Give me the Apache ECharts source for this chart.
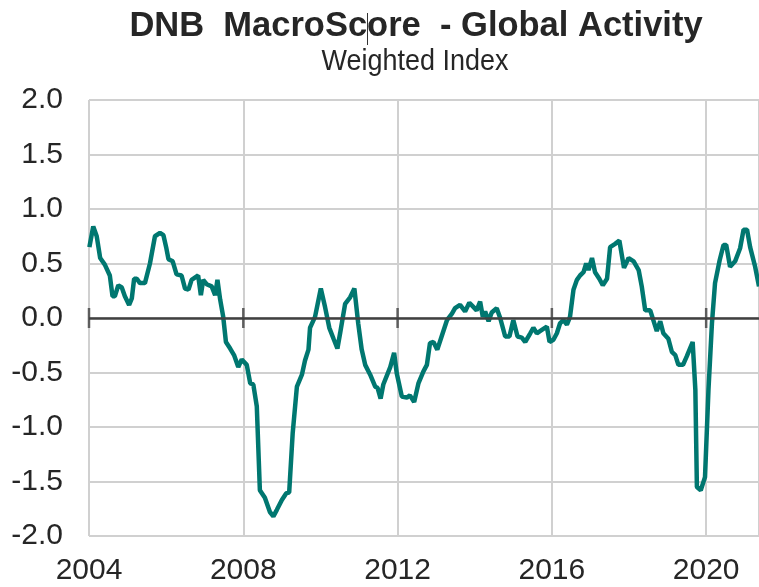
<!DOCTYPE html>
<html>
<head>
<meta charset="utf-8">
<script src="https://cdn.jsdelivr.net/npm/echarts@6/dist/echarts.min.js"></script>
<style>
html,body{margin:0;padding:0;background:#fff;}
#chart{width:759px;height:587px;}
</style>
</head>
<body>
<div id="chart"></div>
<script>
// Decimal-year positions of the readings and the index values
var dates = [
2004.01,2004.11,2004.20,2004.29,2004.41,2004.54,2004.61,2004.67,2004.76,2004.85,2004.93,
2005.04,2005.11,2005.17,2005.24,2005.32,2005.45,2005.58,2005.71,2005.84,2005.93,
2006.00,2006.06,2006.17,2006.27,2006.40,2006.49,2006.58,2006.66,2006.83,2006.90,2006.96,
2007.05,2007.18,2007.27,2007.33,2007.40,2007.48,2007.55,2007.66,2007.76,2007.87,2007.96,
2008.09,2008.18,2008.26,2008.35,2008.43,2008.56,2008.69,2008.78,2008.87,
2009.00,2009.11,2009.19,2009.28,2009.39,2009.52,2009.60,2009.69,2009.73,2009.86,
2010.01,2010.12,2010.23,2010.34,2010.44,2010.51,2010.64,2010.77,2010.88,2010.98,
2011.07,2011.16,2011.29,2011.42,2011.48,2011.56,2011.63,2011.81,2011.91,2011.98,
2012.11,2012.24,2012.32,2012.43,2012.54,2012.67,2012.76,2012.84,2012.93,
2013.03,2013.15,2013.28,2013.41,2013.49,2013.62,2013.75,2013.86,2013.97,
2014.05,2014.14,2014.21,2014.27,2014.36,2014.44,2014.57,2014.66,2014.79,2014.90,
2015.00,2015.11,2015.22,2015.31,2015.44,2015.52,2015.61,2015.74,2015.87,2015.94,
2016.04,2016.13,2016.21,2016.30,2016.39,2016.47,2016.56,2016.65,2016.73,2016.82,2016.89,2016.95,
2017.04,2017.12,2017.23,2017.32,2017.43,2017.51,2017.64,2017.75,2017.87,2017.99,
2018.12,2018.25,2018.33,2018.42,2018.55,2018.63,2018.72,2018.81,2018.89,
2019.02,2019.11,2019.20,2019.28,2019.40,2019.50,2019.65,2019.72,2019.76,2019.86,2019.97,
2020.06,2020.15,2020.23,2020.35,2020.45,2020.52,2020.62,2020.75,2020.88,2020.97,
2021.06,2021.14,2021.27,2021.37
];
var values = [
0.65,0.84,0.75,0.55,0.49,0.39,0.20,0.20,0.30,0.28,0.20,
0.12,0.18,0.36,0.36,0.32,0.32,0.50,0.75,0.78,0.76,
0.65,0.54,0.52,0.40,0.39,0.27,0.26,0.35,0.39,0.21,0.35,
0.31,0.29,0.21,0.35,0.17,0.01,-0.22,-0.28,-0.34,-0.45,-0.38,
-0.43,-0.60,-0.61,-0.81,-1.58,-1.65,-1.78,-1.82,-1.76,
-1.67,-1.61,-1.60,-1.06,-0.63,-0.52,-0.39,-0.29,-0.09,0.01,
0.27,0.10,-0.09,-0.19,-0.28,-0.14,0.13,0.19,0.27,-0.05,
-0.29,-0.43,-0.52,-0.63,-0.64,-0.74,-0.61,-0.45,-0.32,-0.51,
-0.72,-0.73,-0.71,-0.77,-0.60,-0.49,-0.43,-0.23,-0.22,
-0.29,-0.16,-0.02,0.04,0.09,0.12,0.06,0.14,0.10,
0.07,0.15,0.01,0.06,-0.03,0.05,0.09,0.00,-0.17,-0.17,
-0.02,-0.17,-0.18,-0.22,-0.14,-0.09,-0.14,-0.11,-0.08,-0.22,
-0.20,-0.14,-0.05,-0.02,-0.06,0.01,0.26,0.35,0.39,0.42,0.50,0.44,
0.55,0.42,0.36,0.30,0.36,0.65,0.68,0.71,0.46,0.55,
0.52,0.44,0.29,0.07,0.07,-0.02,-0.12,-0.03,-0.14,
-0.19,-0.31,-0.34,-0.43,-0.43,-0.35,-0.22,-0.66,-1.55,-1.58,-1.46,
-0.66,-0.05,0.32,0.53,0.67,0.67,0.47,0.52,0.64,0.81,
0.81,0.65,0.47,0.29
];
var yearTicks = [2004, 2008, 2012, 2016, 2020];
var xMin = 2004, xMax = 2021.37;
var yMin = -2, yMax = 2, yStep = 0.5;
var titleText = 'DNB  MacroScore  - Global Activity';
var subtitleText = 'Weighted Index';

var chart = echarts.init(document.getElementById('chart'), null, {renderer: 'canvas'});
var lineData = dates.map(function (d, i) { return [d, values[i]]; });
var tickData = yearTicks.map(function (y) { return [y, 0]; });
var FONT = '"Liberation Sans", Arial, sans-serif';
var TXT = '#262626';

chart.setOption({
  animation: false,
  backgroundColor: '#ffffff',
  grid: {left: 89, right: 0, top: 100, bottom: 51, containLabel: false},
  graphic: [
    {type: 'text', x: 416, y: 26, style: {text: titleText, fontFamily: FONT, fontSize: 34.5, fontWeight: 'bold', fill: TXT, align: 'center', verticalAlign: 'middle'}},
    {type: 'line', shape: {x1: 367.5, y1: 13, x2: 367.5, y2: 45}, style: {stroke: '#333333', lineWidth: 1}},
    {type: 'text', x: 415, y: 62, scaleX: 0.93, style: {text: subtitleText, fontFamily: FONT, fontSize: 29, fill: TXT, align: 'center', verticalAlign: 'middle'}}
  ],
  xAxis: {
    type: 'value', min: xMin, max: xMax, interval: 4,
    axisLine: {show: false}, axisTick: {show: false},
    axisLabel: {fontFamily: FONT, fontSize: 30, color: TXT, margin: 20, showMaxLabel: false,
      formatter: function (v) { return yearTicks.indexOf(v) >= 0 ? String(v) : ''; }},
    splitLine: {show: true, lineStyle: {color: '#d0d0d0', width: 2}}
  },
  yAxis: {
    type: 'value', min: yMin, max: yMax, interval: yStep,
    axisLine: {show: false}, axisTick: {show: false},
    axisLabel: {fontFamily: FONT, fontSize: 30, color: TXT, margin: 26,
      formatter: function (v) { return v.toFixed(1); }},
    splitLine: {show: true, lineStyle: {color: '#d0d0d0', width: 2}}
  },
  series: [
    {
      type: 'scatter', data: tickData, symbol: 'rect', symbolSize: [2.5, 20],
      itemStyle: {color: '#404040'}, clip: false, silent: true, z: 2,
      markLine: {silent: true, symbol: 'none', label: {show: false},
        lineStyle: {color: '#404040', width: 2.5, type: 'solid'}, data: [{yAxis: 0}]}
    },
    {
      type: 'line', data: lineData, showSymbol: false, smooth: false, clip: true, z: 3,
      lineStyle: {color: '#007770', width: 4.5}, itemStyle: {color: '#007770'}
    }
  ]
});
</script>
</body>
</html>
